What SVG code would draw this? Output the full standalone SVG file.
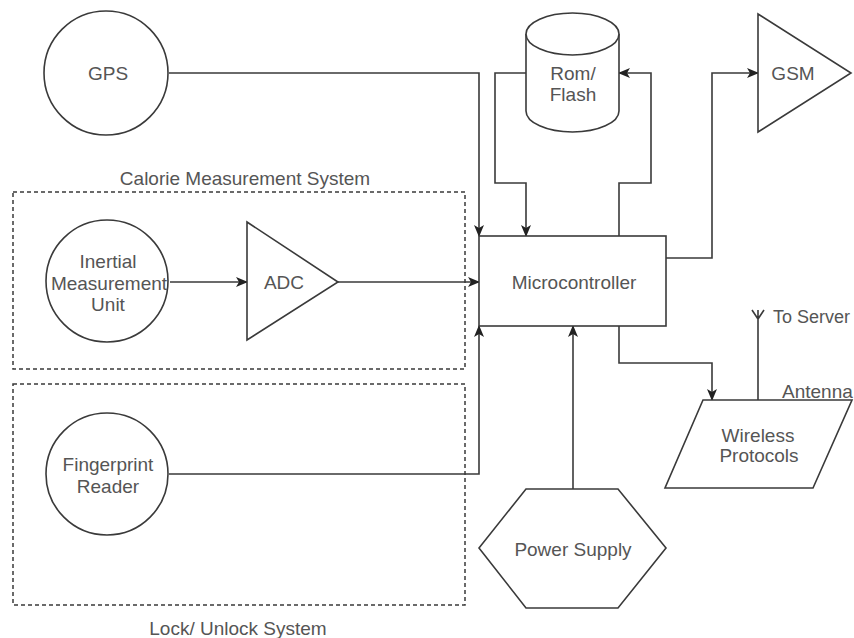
<svg xmlns="http://www.w3.org/2000/svg" width="854" height="638" viewBox="0 0 854 638">
  <style>
    .shape { fill: #ffffff; stroke: #3a3a3a; stroke-width: 1.6; }
    .group { fill: none; stroke: #3a3a3a; stroke-width: 1.5; stroke-dasharray: 4 3; }
    .wire { fill: none; stroke: #3a3a3a; stroke-width: 1.6; }
    .arrow { marker-end: url(#head); }
    text { font-family: "Liberation Sans", Arial, sans-serif; font-size: 19px; fill: #555555; text-anchor: middle; dominant-baseline: central; }
    .left { text-anchor: start; }
  </style>
  <defs>
    <marker id="head" viewBox="0 0 12 10" refX="11" refY="5" markerWidth="12" markerHeight="10" markerUnits="userSpaceOnUse" orient="auto">
      <path d="M0,0 L12,5 L0,10 L3,5 Z" fill="#222222"/>
    </marker>
  </defs>
  <rect width="854" height="638" fill="#ffffff"/>

  <!-- subsystem boundaries -->
  <g id="calorie-system">
    <rect class="group" x="13" y="192" width="452" height="177"/>
    <text x="245" y="178">Calorie Measurement System</text>
  </g>
  <g id="lock-system">
    <rect class="group" x="13" y="384" width="452" height="221"/>
    <text x="238" y="628">Lock/ Unlock System</text>
  </g>

  <!-- connectors -->
  <g id="connectors">
    <path class="wire arrow" d="M169,73 H479 V236"/>
    <path class="wire arrow" d="M526,73 H495 V183 H526 V236"/>
    <path class="wire arrow" d="M619,236 V183 H651 V73 H619"/>
    <path class="wire arrow" d="M666,258 H712 V73 H758"/>
    <path class="wire arrow" d="M170,282 H247"/>
    <path class="wire arrow" d="M338,282 H479"/>
    <path class="wire arrow" d="M169,474 H479 V326"/>
    <path class="wire arrow" d="M573,489 V326"/>
    <path class="wire arrow" d="M619,326 V363 H712 V400"/>
    <path class="wire" d="M758,400 V310 M752,310 L758,319 L764,310"/>
  </g>

  <!-- nodes -->
  <g id="gps">
    <circle class="shape" cx="106" cy="73" r="62"/>
    <text x="108" y="73">GPS</text>
  </g>
  <g id="rom-flash">
    <path class="shape" d="M526,34 V111 A46.5,21 0 0 0 619,111 V34 A46.5,21 0 0 0 526,34 Z"/>
    <path class="shape" fill="none" d="M526,34 A46.5,21 0 0 0 619,34"/>
    <text x="573" y="73">Rom/</text>
    <text x="573" y="94">Flash</text>
  </g>
  <g id="gsm">
    <polygon class="shape" points="758,14 851,73 758,132"/>
    <text x="793" y="73">GSM</text>
  </g>
  <g id="imu">
    <circle class="shape" cx="107" cy="281" r="61"/>
    <text x="108" y="261">Inertial</text>
    <text x="109" y="283">Measurement</text>
    <text x="108" y="304">Unit</text>
  </g>
  <g id="adc">
    <polygon class="shape" points="247,222 338,282 247,340"/>
    <text x="284" y="282">ADC</text>
  </g>
  <g id="microcontroller">
    <rect class="shape" x="479" y="236" width="187" height="90"/>
    <text x="574" y="282">Microcontroller</text>
  </g>
  <g id="fingerprint">
    <circle class="shape" cx="107" cy="474" r="61"/>
    <text x="108" y="464">Fingerprint</text>
    <text x="108" y="486">Reader</text>
  </g>
  <g id="power-supply">
    <polygon class="shape" points="526,489 618,489 666,548 618,608 526,608 479,548"/>
    <text x="573" y="549">Power Supply</text>
  </g>
  <g id="wireless">
    <polygon class="shape" points="703,400 852,400 813,488 665,488"/>
    <text x="758" y="435">Wireless</text>
    <text x="759" y="455">Protocols</text>
  </g>
  <g id="antenna-labels">
    <text class="left" x="773" y="317" style="font-size:18px">To Server</text>
    <text class="left" x="782" y="391">Antenna</text>
  </g>
</svg>
